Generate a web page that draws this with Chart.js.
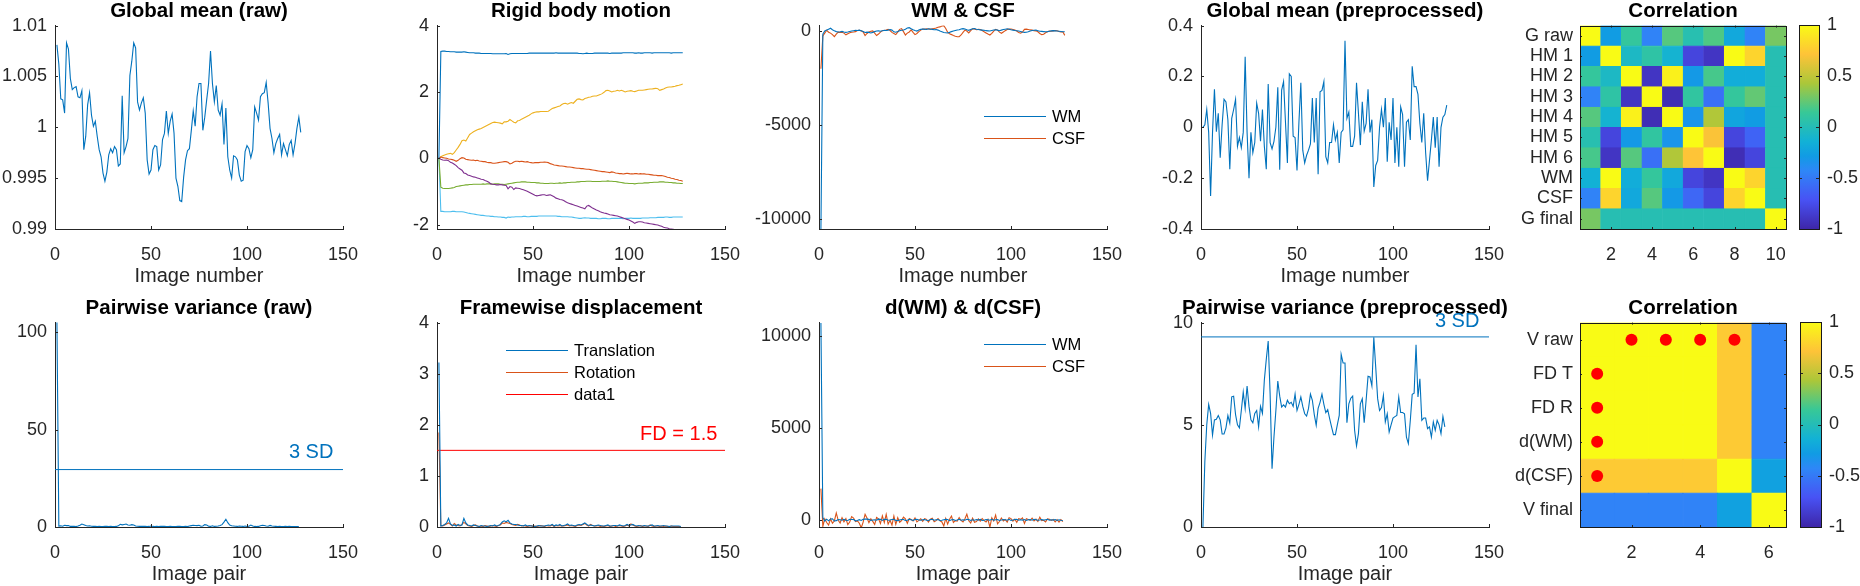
<!DOCTYPE html>
<html><head><meta charset="utf-8">
<style>html,body{margin:0;padding:0;background:#fff;width:1860px;height:586px;overflow:hidden}
canvas{position:absolute;display:block}</style>
<script src="https://cdn.jsdelivr.net/npm/chart.js@4"></script>
</head><body>
<script>
/* ---------- data ---------- */
const globalRaw=[1.0081,1.0062,1.0028,1.0027,1.0014,1.0083,1.0077,1.0048,1.0037,1.0039,1.004,1.003,1.0029,1.0036,.9978,.9991,1.0022,1.0034,1.0012,1.0001,1.0006,.9991,.9978,.9971,.9955,.9947,.9956,.9973,.9979,.9975,.9981,.9978,.9962,.9964,1.0031,.9975,.9981,.9989,1.0051,1.0065,1.0083,1.0078,1.0025,1.0017,1.0024,1.0029,1.0014,.9968,.9954,.9958,.9978,.9982,.9981,.9958,.9963,.9988,.9994,1.0016,.9994,1.0006,1.0013,.9994,.995,.9942,.9928,.9927,.9951,.9968,.9977,.9979,.9997,1.0016,1.0001,1.003,1.0043,1.0043,.9997,1.001,1.0027,1.0043,1.0075,1.0043,1.0025,1.0041,1.0017,1.0012,1.0023,.9983,1.0019,.9971,.9958,.995,.9972,.9971,.9968,.9953,.9947,.9948,.9976,.9982,.9979,.997,.9978,1.002,1.0014,1.0007,1.003,1.0033,1.0034,1.0044,1.0024,.9999,.9989,.9975,.9984,.9989,.9993,.9973,.9984,.9978,.9972,.9983,.9987,.9973,.9984,.9999,1.001,.9995];
const motion1=[0,3.22,3.23,3.23,3.22,3.22,3.21,3.21,3.21,3.2,3.2,3.2,3.2,3.21,3.2,3.19,3.18,3.18,3.18,3.17,3.17,3.17,3.16,3.16,3.16,3.16,3.16,3.16,3.15,3.15,3.15,3.15,3.15,3.15,3.15,3.16,3.13,3.15,3.16,3.16,3.16,3.16,3.16,3.16,3.16,3.16,3.16,3.17,3.17,3.17,3.17,3.17,3.17,3.17,3.17,3.17,3.17,3.17,3.17,3.17,3.17,3.18,3.17,3.17,3.17,3.17,3.17,3.17,3.17,3.17,3.17,3.17,3.17,3.16,3.16,3.15,3.16,3.17,3.16,3.16,3.16,3.17,3.17,3.17,3.17,3.17,3.17,3.17,3.17,3.16,3.17,3.17,3.17,3.17,3.17,3.17,3.18,3.18,3.18,3.18,3.18,3.18,3.17,3.17,3.18,3.17,3.17,3.18,3.18,3.18,3.18,3.17,3.18,3.18,3.18,3.18,3.18,3.18,3.18,3.18,3.18,3.17,3.18,3.18,3.18,3.18,3.18,3.18];
const motion2=[0,.04,.02,.01,0,-.02,-.03,-.04,-.06,-.09,-.06,-.01,.02,.01,-.03,-.04,-.05,-.06,-.05,-.07,-.06,-.08,-.09,-.1,-.1,-.12,-.13,-.13,-.15,-.15,-.14,-.13,-.12,-.11,-.1,-.1,-.12,-.17,-.15,-.11,-.09,-.09,-.1,-.09,-.1,-.11,-.1,-.12,-.13,-.14,-.13,-.13,-.13,-.12,-.12,-.11,-.12,-.13,-.16,-.18,-.2,-.21,-.22,-.23,-.23,-.24,-.25,-.26,-.26,-.27,-.28,-.29,-.3,-.3,-.31,-.31,-.32,-.33,-.33,-.34,-.35,-.36,-.37,-.38,-.39,-.4,-.4,-.41,-.42,-.43,-.41,-.42,-.44,-.45,-.46,-.46,-.47,-.46,-.45,-.46,-.47,-.47,-.46,-.46,-.47,-.46,-.47,-.47,-.48,-.48,-.49,-.5,-.51,-.51,-.52,-.52,-.52,-.53,-.55,-.57,-.58,-.6,-.61,-.63,-.64,-.66,-.67,-.69];
const motion3=[0,.05,.08,.1,.12,.14,.15,.12,.17,.25,.33,.42,.53,.55,.52,.62,.72,.76,.8,.83,.86,.88,.9,.93,.96,.99,1.02,1.05,1.08,1.09,1.08,1.07,1.06,1.04,1.1,1.1,1.12,1.17,1.13,1.09,1.07,1.13,1.14,1.18,1.21,1.24,1.27,1.3,1.34,1.37,1.39,1.4,1.4,1.41,1.41,1.41,1.41,1.42,1.46,1.5,1.52,1.54,1.56,1.58,1.62,1.65,1.66,1.63,1.66,1.68,1.66,1.72,1.78,1.79,1.77,1.76,1.8,1.82,1.84,1.85,1.87,1.88,1.88,1.9,1.92,1.95,1.99,2.04,2.05,2.03,2,2.02,2.03,2.05,2.03,2.05,2.03,2,2.02,2.03,2.04,2.02,2.01,2.03,2.05,2.05,2.05,2.06,2.07,2.08,2.09,2.09,2.1,2.11,2.1,2.05,2.07,2.09,2.12,2.14,2.15,2.15,2.16,2.17,2.19,2.2,2.22,2.24];
const motion4=[0,-.87,-.9,-.91,-.91,-.91,-.9,-.89,-.88,-.85,-.84,-.83,-.82,-.81,-.8,-.8,-.79,-.79,-.78,-.78,-.78,-.78,-.78,-.77,-.78,-.77,-.77,-.77,-.78,-.77,-.77,-.77,-.78,-.78,-.79,-.78,-.77,-.76,-.75,-.74,-.73,-.72,-.72,-.71,-.71,-.71,-.72,-.72,-.73,-.73,-.73,-.74,-.74,-.75,-.75,-.76,-.76,-.76,-.75,-.75,-.76,-.75,-.75,-.74,-.75,-.74,-.74,-.73,-.73,-.72,-.72,-.72,-.71,-.71,-.7,-.7,-.7,-.69,-.69,-.69,-.7,-.7,-.7,-.7,-.7,-.69,-.69,-.69,-.68,-.69,-.69,-.7,-.7,-.71,-.72,-.73,-.74,-.75,-.75,-.76,-.76,-.76,-.77,-.76,-.75,-.75,-.75,-.74,-.74,-.74,-.73,-.73,-.72,-.72,-.72,-.71,-.71,-.71,-.72,-.72,-.73,-.73,-.74,-.74,-.75,-.75,-.76,-.76];
const motion5=[0,-.03,-.05,-.06,-.05,-.07,-.12,-.14,-.18,-.22,-.28,-.32,-.36,-.44,-.46,-.5,-.52,-.54,-.56,-.57,-.59,-.61,-.63,-.64,-.67,-.69,-.72,-.77,-.78,-.79,-.8,-.8,-.79,-.8,-.81,-.82,-.92,-.85,-.87,-.94,-.89,-.9,-.91,-.93,-.95,-.97,-.99,-1.02,-1.05,-1.08,-1.11,-1.13,-1.12,-1.11,-1.1,-1.1,-1.12,-1.11,-1.1,-1.13,-1.16,-1.2,-1.22,-1.24,-1.25,-1.27,-1.31,-1.34,-1.36,-1.38,-1.4,-1.42,-1.44,-1.46,-1.48,-1.5,-1.52,-1.44,-1.42,-1.46,-1.5,-1.53,-1.56,-1.58,-1.61,-1.63,-1.65,-1.66,-1.68,-1.7,-1.71,-1.72,-1.73,-1.74,-1.76,-1.78,-1.8,-1.82,-1.84,-1.86,-1.89,-1.92,-1.96,-1.93,-1.91,-1.91,-1.92,-1.94,-1.95,-1.96,-1.97,-1.98,-1.99,-2,-2.01,-2.03,-2.05,-2.08,-2.09,-2.1,-2.12,-2.13,-2.14,-2.15,-2.17,-2.19,-2.2,-2.22];
const motion6=[0,-1.6,-1.6,-1.61,-1.61,-1.61,-1.61,-1.6,-1.6,-1.61,-1.61,-1.61,-1.61,-1.62,-1.63,-1.65,-1.66,-1.67,-1.68,-1.69,-1.7,-1.71,-1.72,-1.72,-1.73,-1.74,-1.74,-1.75,-1.75,-1.76,-1.76,-1.77,-1.77,-1.78,-1.78,-1.8,-1.77,-1.78,-1.77,-1.77,-1.76,-1.76,-1.76,-1.76,-1.75,-1.75,-1.76,-1.76,-1.75,-1.75,-1.75,-1.75,-1.74,-1.74,-1.74,-1.74,-1.74,-1.74,-1.74,-1.74,-1.74,-1.74,-1.75,-1.75,-1.76,-1.76,-1.76,-1.76,-1.77,-1.77,-1.78,-1.79,-1.8,-1.81,-1.81,-1.8,-1.79,-1.8,-1.8,-1.81,-1.81,-1.81,-1.81,-1.82,-1.82,-1.81,-1.81,-1.81,-1.82,-1.82,-1.81,-1.81,-1.81,-1.81,-1.81,-1.81,-1.82,-1.81,-1.81,-1.81,-1.8,-1.81,-1.81,-1.81,-1.81,-1.81,-1.8,-1.8,-1.8,-1.8,-1.79,-1.79,-1.79,-1.79,-1.78,-1.78,-1.78,-1.78,-1.77,-1.77,-1.78,-1.78,-1.77,-1.77,-1.77,-1.77,-1.77,-1.77];
const wmRaw=[-10530,-150,20,60,110,160,80,20,-20,-40,-30,-10,-40,-60,-40,-10,10,30,50,40,60,30,-20,-70,-50,-60,-90,-60,-20,10,20,0,30,50,40,60,90,60,-30,-50,-20,30,50,70,110,170,190,130,80,40,10,60,100,120,110,90,130,120,100,80,90,60,10,-30,-70,-80,-90,-60,-20,10,40,70,80,120,140,120,80,50,90,130,140,110,90,70,60,50,30,20,10,40,70,80,60,30,60,90,110,130,110,80,60,40,30,10,-10,-40,-60,-50,-30,10,40,50,60,30,0,-10,-20,-30,-20,0,20,30,20,10,0,-10,-30,-30];
const csfRaw=[-2000,-250,-100,50,-50,-100,-180,-285,-150,-50,-70,-60,-100,-190,-130,-80,-50,-40,-20,40,50,20,-40,-230,-120,-40,0,20,-100,-230,-150,-50,30,40,60,100,40,-60,-120,-180,-50,100,140,-20,-200,-100,-40,70,-60,-180,-120,-20,60,120,100,130,120,100,130,150,170,210,230,280,300,150,-50,-140,-180,-230,-270,-290,-285,-200,-60,60,10,-90,30,130,120,80,100,90,40,-30,-90,-150,-200,-110,10,100,60,-50,-110,-40,30,90,110,120,90,60,10,-70,-100,-40,100,110,90,70,60,30,20,-30,-120,-180,-160,-80,-30,10,0,20,40,30,-10,-40,-30,-220];
const globalPre=[0,.01,.07,-.02,-.27,-.02,.15,-.017,.055,-.12,.01,.11,.10,.03,-.165,.035,.07,.11,-.075,-.04,-.08,-.02,.277,-.02,-.2,-.02,-.1,-.06,.095,.055,-.055,.07,-.075,-.165,.17,-.06,-.085,-.055,0,.157,-.167,.146,.18,.02,-.14,.21,.2,-.035,-.04,-.17,.02,.175,-.09,-.14,-.11,-.09,-.065,.115,-.06,.115,-.185,.14,.145,.18,-.115,-.14,-.06,-.06,.01,-.05,-.02,-.14,-.02,-.01,.34,.035,.06,-.075,-.075,-.035,.175,.055,-.07,.1,-.015,.015,.15,-.02,.03,-.235,-.15,-.13,0,.07,0,.115,-.135,.02,-.05,.115,-.14,0,-.155,.08,.05,-.155,.02,.03,-.05,.24,.16,.16,.13,.015,-.06,.055,-.1,-.21,-.13,-.05,.04,-.08,.04,-.155,0,.04,.05,.087];
const varRaw=[106,.5,.6,.4,.9,.7,.8,.3,.4,.3,.2,.5,.9,1.5,1.2,.8,.5,.6,.4,.3,.3,.2,.3,.2,.2,.3,.3,.2,.3,.2,.2,.3,.6,1.4,1.1,1.3,1.5,1,.9,1.2,1,.5,.4,.3,.3,.4,.3,.2,.3,.5,.3,.2,.3,.2,.3,.4,.3,.2,.2,.3,.2,.2,.2,.3,.3,.2,.2,.3,.2,.5,.7,.9,.8,.7,.9,.4,.5,1.2,1,.4,.3,.6,.3,.4,.5,.8,1.2,2.5,4,2.2,1,.6,.5,.4,.3,.5,.4,.3,.5,.3,.4,1,.5,.3,.2,.3,.6,.9,.8,.5,.4,.8,.5,.4,.3,.2,.3,.2,.2,.3,.2,.3,.2,.2,.2,.2,.2];
const fdTrans=[3.22,.02,.03,.05,.08,.17,.06,.03,.04,.02,.05,.03,.04,.17,.08,.04,.03,.02,.04,.03,.02,.01,.03,.02,.02,.01,.02,.03,.02,.04,.02,.03,.05,.1,.12,.1,.13,.08,.06,.05,.05,.04,.03,.03,.02,.04,.02,.03,.02,.02,.01,.02,.03,.02,.02,.02,.03,.04,.03,.05,.02,.04,.03,.05,.02,.03,.04,.06,.03,.04,.03,.02,.04,.05,.04,.06,.08,.05,.03,.04,.03,.02,.03,.04,.03,.02,.02,.03,.04,.02,.02,.03,.03,.02,.04,.03,.02,.03,.05,.03,.04,.05,.03,.02,.03,.02,.02,.03,.02,.02,.03,.04,.02,.02,.03,.02,.02,.03,.02,.02,.01,.02,.02,.02,.02,.02,.01];
const fdRot=[1.85,.03,.02,.04,.06,.08,.05,.02,.07,.04,.03,.02,.05,.09,.06,.03,.02,.01,.03,.04,.02,.01,.02,.01,.03,.02,.01,.02,.03,.02,.01,.03,.04,.08,.07,.09,.08,.07,.05,.04,.03,.05,.04,.02,.03,.02,.01,.02,.03,.01,.02,.01,.02,.03,.02,.01,.03,.02,.02,.04,.01,.03,.02,.03,.02,.02,.03,.04,.02,.03,.02,.01,.03,.04,.03,.05,.07,.04,.02,.05,.03,.02,.02,.03,.01,.02,.01,.02,.03,.01,.02,.03,.01,.02,.03,.02,.01,.02,.04,.02,.06,.04,.02,.01,.02,.03,.01,.02,.02,.01,.04,.02,.01,.02,.02,.01,.02,.01,.02,.01,.01,.02,.01,.01,.01,.01,.01];
const dWM=[10700,130,-60,40,-50,50,60,-60,-40,20,10,-20,30,-20,-30,30,20,20,-50,-30,10,-30,30,50,40,30,-30,-10,10,-20,40,30,-30,30,30,-20,-10,20,30,-30,-40,-10,20,20,-30,-20,30,10,-30,20,30,-10,-20,10,20,-20,-30,20,30,-20,10,20,-30,-20,10,30,20,-40,10,20,-30,-10,30,-20,10,-20,30,20,-30,10,-20,20,-10,30,-30,-20,20,10,-20,30,-20,10,20,-30,-10,20,10,-20,30,-30,-10,20,30,-20,10,-10,20,-30,10,20,-20,30,10,-20,-10,20,-10,10,30,-20,10,-10,20,-30,10,-20,-30];
const dCSF=[1700,-350,60,-140,-280,60,-180,-60,380,-20,-170,120,-100,70,-260,-120,180,100,-90,-60,-180,-430,-120,300,100,-150,60,-80,-250,130,60,-200,220,-150,300,-230,-20,-280,210,-240,120,-130,-40,150,60,-180,80,20,-60,110,-110,-30,60,-80,70,30,-120,40,90,-100,-40,70,-50,-110,-330,80,-230,40,210,-140,-40,-70,130,-30,-110,60,310,-50,-170,90,-130,-90,50,-70,70,-40,-110,30,-400,120,-60,260,-210,-90,100,-60,20,-120,120,70,-70,40,-130,70,30,110,-190,60,20,-20,100,-60,40,-90,150,-40,-20,-110,50,30,-30,20,-110,10,-120,20,-90];
const varPre=[0,3.2,5,6,5.56,4.5,5.24,5.27,5.45,5.24,4.55,4.55,4.85,5.45,5.08,6.37,6.4,5.5,5,4.85,5.7,6.6,5.8,6.9,5.9,5.24,5.1,5.56,5.7,4.9,5.9,5.56,7.2,8.2,9.1,6.5,2.85,4.4,5.7,7.14,6.4,5.87,5.98,5.87,6.2,6.03,6.1,5.9,6.5,5.7,6,6.36,5.9,5.54,5.43,5.8,6.5,6.2,5.5,4.98,5.8,6.1,6.5,6,5.6,5.74,5.3,4.9,4.52,4.52,5,5.46,8.44,8.02,8.02,5.1,6.03,6.3,6.4,4.73,3.97,4.57,6.03,6.28,5.1,6.2,7.37,7.34,6.9,9.28,7.82,6.28,5.7,5.84,6.44,5.14,5.54,4.65,5,5.33,5.4,5.46,6.36,5.6,5.6,5.54,4.4,4.08,5.2,6.49,6.55,8.91,6.36,7.25,5.22,5.33,5.33,4.81,4.9,4.4,5.14,4.73,5.22,5,4.57,5.41,4.9];
const threeSdRaw=29.5, fdLimit=1.5, threeSdPre=9.3;
const frameTicks=[0,50,100,150];
const corrLabelsA=["G raw","HM 1","HM 2","HM 3","HM 4","HM 5","HM 6","WM","CSF","G final"];
const corrLabelsB=["V raw","FD T","FD R","d(WM)","d(CSF)","V final"];
const corrA=[
[1,-.28,.12,-.45,.22,.03,.2,-.2,-.45,.3],
[-.28,1,-.06,.08,-.12,-.8,-.9,1,.8,.02],
[.12,-.06,1,-.9,.95,-.3,.18,-.17,-.17,.02],
[-.45,.08,-.9,1,-.95,.1,-.55,.12,.25,.02],
[.22,-.12,.95,-.95,1,-.33,.45,-.22,-.28,.02],
[.03,-.8,-.3,.1,-.33,1,.7,-.8,-.62,.02],
[.18,-.9,.22,-.55,.45,.72,1,-.95,-.8,.02],
[-.14,1,-.17,.12,-.2,-.8,-.9,1,.8,.02],
[-.45,.8,-.2,.22,-.3,-.6,-.8,.8,1,.02],
[.3,.02,.02,.02,.02,.02,.02,.02,.02,1]];
const corrB=[
[1,1,1,1,.75,-.45],
[1,1,1,1,.75,-.45],
[1,1,1,1,.75,-.45],
[1,1,1,1,.75,-.45],
[.75,.75,.75,.75,1,-.25],
[-.45,-.45,-.45,-.45,-.25,1]];
const sigRows=[1,1,1,1,2,3,4,5], sigCols=[2,3,4,5,1,1,1,1];
const parula=[[62,38,168],[72,82,244],[46,135,247],[17,155,228],[18,177,214],[55,200,151],[171,199,57],[254,195,56],[249,251,21]];
const paruStops=[0,1/7,2/7,.357,3/7,4/7,5/7,6/7,1];

/* ---------- style ---------- */
const BLUE='#0072BD',ORANGE='#D95319',YELLOW='#EDB120',PURPLE='#7E2F8E',GREEN='#77AC30',CYAN='#4DBEEE',RED='#FF0000',INK='#262626';
const FONT='"Liberation Sans",Arial,sans-serif';
const TOP=26,BOTTOM=59,RIGHT=34;
const rows=[{t:25,h:204},{t:322,h:205}];
const cols=[{l:55,ml:55},{l:437,ml:50},{l:819,ml:68},{l:1201,ml:50}];

function parulaColor(v){
  const t=(v+1)/2;let i=0;
  while(i<paruStops.length-2&&t>paruStops[i+1])i++;
  const f=Math.min(1,Math.max(0,(t-paruStops[i])/(paruStops[i+1]-paruStops[i])));
  const a=parula[i],b=parula[i+1];
  return 'rgb('+a.map((c,k)=>Math.round(c+(b[k]-c)*f)).join(',')+')';
}

/* inward ticks, optional box, legend and text notes; title box centred on the plot */
const decor={id:'decor',
  afterLayout(c){const t=c.titleBlock;if(t&&t.options.display){const m=(c.chartArea.left+c.chartArea.right)/2;t.left=m-260;t.right=m+260;}},
  afterDatasetsDraw(c,a,o){
    const g=c.ctx,A=c.chartArea,len=o.tickLen||3;
    g.save();g.strokeStyle=INK;g.lineWidth=1;g.beginPath();
    const X=c.scales.x,Y=c.scales.y;
    if(X&&X.options.display!==false)X.ticks.forEach(k=>{const p=Math.round(X.getPixelForValue(k.value))+.5;
      g.moveTo(p,A.bottom);g.lineTo(p,A.bottom-len);if(o.box){g.moveTo(p,A.top);g.lineTo(p,A.top+len);}});
    Y.ticks.forEach(k=>{const p=Math.round(Y.getPixelForValue(k.value))+.5;
      g.moveTo(A.left,p);g.lineTo(A.left+len,p);if(o.box){g.moveTo(A.right,p);g.lineTo(A.right-len,p);}});
    g.stroke();
    if(o.box){g.strokeStyle='#1a1a1a';g.strokeRect(Math.round(A.left)+.5,Math.round(A.top)+.5,Math.round(A.right-A.left),Math.round(A.bottom-A.top));}
    if(o.legend){const L=o.legend;g.font='16.5px '+FONT;g.textBaseline='middle';g.textAlign='left';
      L.names.forEach((n,i)=>{const y=L.y+i*22+.5,ds=c.data.datasets.find(d=>d.label===n);
        g.strokeStyle=ds.borderColor;g.beginPath();g.moveTo(L.x,y);g.lineTo(L.x+62,y);g.stroke();
        g.fillStyle='#000';g.fillText(n,L.x+68,y+1);});}
    (o.notes||[]).forEach(n=>{g.font='20px '+FONT;g.fillStyle=n.color;g.textAlign='right';g.textBaseline='middle';
      g.fillText(n.text,X.getPixelForValue(n.x),Y.getPixelForValue(n.y)+n.dy);});
    g.restore();
  }};
Chart.register(decor);

function place(cfg,left,top,w,h){
  const cv=document.createElement('canvas');
  cv.width=w;cv.height=h;cv.style.left=left+'px';cv.style.top=top+'px';cv.style.width=w+'px';cv.style.height=h+'px';
  document.body.appendChild(cv);
  new Chart(cv,cfg);
}
function series(label,vals,color,w){
  return {label,data:vals.map((v,i)=>({x:i+1,y:v})),borderColor:color,borderWidth:w||1.1,pointRadius:0,tension:0,fill:false};
}
function hline(label,v,color){
  return {label,data:[{x:0,y:v},{x:150,y:v}],borderColor:color,borderWidth:1,pointRadius:0,tension:0};
}
const titleOpts=text=>({display:true,text,color:'#000',font:{family:FONT,size:20.5,weight:'bold'},padding:{top:0,bottom:2}});
const tickFont={family:FONT,size:18};
function linePanel(r,c,title,xLabel,yMin,yMax,yTicks,datasets,extra){
  const R=rows[r],C=cols[c];
  place({type:'line',data:{datasets},
    options:{responsive:false,animation:false,devicePixelRatio:1,
      layout:{autoPadding:false,padding:{top:0,left:0,bottom:0,right:RIGHT}},
      plugins:{legend:{display:false},tooltip:{enabled:false},title:titleOpts(title),decor:extra||{}},
      scales:{
        x:{type:'linear',min:0,max:150,grid:{display:false,drawTicks:false},border:{display:true,color:INK,width:1},
          afterBuildTicks:s=>{s.ticks=frameTicks.map(v=>({value:v}));},
          afterFit:s=>{s.height=BOTTOM;},
          ticks:{color:INK,font:tickFont,padding:15,maxRotation:0,autoSkip:false,callback:v=>String(v)},
          title:{display:true,text:xLabel,color:INK,font:{family:FONT,size:20},padding:0}},
        y:{type:'linear',min:yMin,max:yMax,grid:{display:false,drawTicks:false},border:{display:true,color:INK,width:1},
          afterBuildTicks:s=>{s.ticks=yTicks.map(v=>({value:v}));},
          afterFit:s=>{s.width=C.ml;},
          ticks:{color:INK,font:tickFont,padding:8,autoSkip:false,callback:v=>String(v)}}
      }}},
    C.l-C.ml,R.t-TOP,C.ml+288+RIGHT,TOP+R.h+BOTTOM);
}
function heatPanel(r,matrix,labels,xTicks,dots){
  const R=rows[r],n=matrix.length,L=1580,W=206,ML=80;
  const cells=[],colors=[];
  matrix.forEach((row,i)=>row.forEach((v,j)=>{cells.push({x:j+1,y:[i+.5,i+1.5]});colors.push(parulaColor(v));}));
  const datasets=[{type:'bar',data:cells,backgroundColor:colors,borderColor:colors,borderWidth:.6,borderSkipped:false,barPercentage:1,categoryPercentage:1,grouped:false,order:2}];
  if(dots)datasets.unshift({type:'scatter',data:dots,backgroundColor:RED,borderColor:RED,pointRadius:6,borderWidth:0,order:1});
  place({type:'bar',data:{datasets},
    options:{responsive:false,animation:false,devicePixelRatio:1,
      layout:{autoPadding:false,padding:{top:0,left:0,bottom:0,right:RIGHT}},
      plugins:{legend:{display:false},tooltip:{enabled:false},title:titleOpts('Correlation'),decor:{box:true,tickLen:2}},
      scales:{
        x:{type:'linear',min:.5,max:n+.5,offset:false,grid:{display:false,drawTicks:false},border:{display:false},
          afterBuildTicks:s=>{s.ticks=xTicks.map(v=>({value:v}));},
          afterFit:s=>{s.height=BOTTOM;},
          ticks:{color:INK,font:tickFont,padding:15,maxRotation:0,autoSkip:false,callback:v=>String(v)}},
        y:{type:'linear',min:.5,max:n+.5,reverse:true,grid:{display:false,drawTicks:false},border:{display:false},
          afterBuildTicks:s=>{s.ticks=labels.map((_,i)=>({value:i+1}));},
          afterFit:s=>{s.width=ML;},
          ticks:{color:INK,font:tickFont,padding:7,autoSkip:false,callback:v=>labels[v-1]}}
      }}},
    L-ML,R.t-TOP,ML+W+RIGHT,TOP+R.h+BOTTOM);
}
function colorbar(r,left,w){
  const R=rows[r],barTicks=[1,.5,0,-.5,-1];
  place({type:'bar',data:{labels:[''],datasets:[{data:[[-1,1]],barPercentage:1,categoryPercentage:1,borderWidth:0,
      backgroundColor:ctx=>{const A=ctx.chart.chartArea;if(!A)return '#888';
        const g=ctx.chart.ctx.createLinearGradient(0,A.bottom,0,A.top);
        parula.forEach((c,i)=>g.addColorStop(paruStops[i],'rgb('+c.join(',')+')'));return g;}}]},
    options:{responsive:false,animation:false,devicePixelRatio:1,
      layout:{autoPadding:false,padding:{top:TOP,left:0,bottom:BOTTOM,right:0}},
      plugins:{legend:{display:false},tooltip:{enabled:false},title:{display:false},decor:{box:true,tickLen:3}},
      scales:{
        x:{display:false},
        y:{position:'right',min:-1,max:1,grid:{display:false,drawTicks:false},border:{display:false},
          afterBuildTicks:s=>{s.ticks=barTicks.map(v=>({value:v}));},
          afterFit:s=>{s.width=1860-left-w;},
          ticks:{color:INK,font:tickFont,padding:8,autoSkip:false,callback:v=>String(v)}}
      }}},
    left,R.t-TOP,1860-left,TOP+R.h+BOTTOM);
}

/* ---------- panels ---------- */
linePanel(0,0,'Global mean (raw)','Image number',.99,1.01,[.99,.995,1,1.005,1.01],[series('data',globalRaw,BLUE)]);
linePanel(0,1,'Rigid body motion','Image number',-2.13,4,[-2,0,2,4],[
  series('HM 1',motion1,BLUE),series('HM 2',motion2,ORANGE),series('HM 3',motion3,YELLOW),
  series('HM 5',motion5,PURPLE),series('HM 4',motion4,GREEN),series('HM 6',motion6,CYAN)]);
linePanel(0,2,'WM & CSF','Image number',-10530,300,[-10000,-5000,0],[series('WM',wmRaw,BLUE),series('CSF',csfRaw,ORANGE)],
  {legend:{x:233,y:117,names:['WM','CSF']}});
linePanel(0,3,'Global mean (preprocessed)','Image number',-.4,.4,[-.4,-.2,0,.2,.4],[series('data',globalPre,BLUE)]);

linePanel(1,0,'Pairwise variance (raw)','Image pair',0,105,[0,50,100],[series('data',varRaw,BLUE),hline('3 SD',threeSdRaw,BLUE)],
  {notes:[{text:'3 SD',x:145,y:threeSdRaw,dy:-17,color:BLUE}]});
linePanel(1,1,'Framewise displacement','Image pair',0,4,[0,1,2,3,4],[series('Translation',fdTrans,BLUE),series('Rotation',fdRot,ORANGE),hline('data1',fdLimit,RED)],
  {legend:{x:119,y:54,names:['Translation','Rotation','data1']},notes:[{text:'FD = 1.5',x:146,y:fdLimit,dy:-16,color:RED}]});
linePanel(1,2,'d(WM) & d(CSF)','Image pair',-386,10720,[0,5000,10000],[series('WM',dWM,BLUE),series('CSF',dCSF,ORANGE)],
  {legend:{x:233,y:48,names:['WM','CSF']}});
linePanel(1,3,'Pairwise variance (preprocessed)','Image pair',0,10,[0,5,10],[series('data',varPre,BLUE),hline('3 SD',threeSdPre,BLUE)],
  {notes:[{text:'3 SD',x:145,y:threeSdPre,dy:-15,color:BLUE}]});

heatPanel(0,corrA,corrLabelsA,[2,4,6,8,10],null);
heatPanel(1,corrB,corrLabelsB,[2,4,6],sigRows.map((r,i)=>({x:sigCols[i],y:r})));
colorbar(0,1799,20);
colorbar(1,1800,21);
</script>
</body></html>
